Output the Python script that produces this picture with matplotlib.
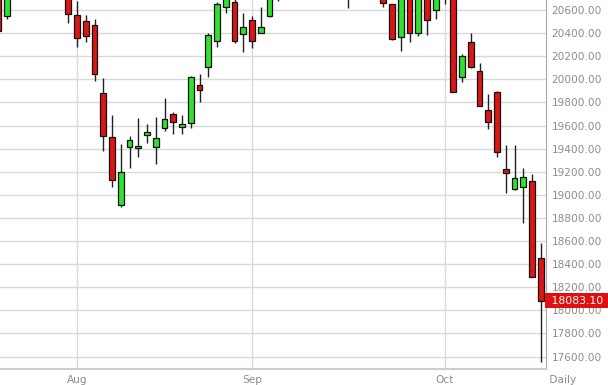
import numpy as np
import matplotlib
matplotlib.use("Agg")
import matplotlib.pyplot as plt
import matplotlib.transforms as mtransforms

# daily OHLC, one entry per trading day (first candle is cut by the left edge)
opens = [20720, 20551, 20760, 20800, 20790, 20870, 20830, 20800, 20770, 20557,
         20507, 20470, 19884, 19500, 18912, 19411, 19402, 19520, 19417, 19578,
         19700, 19587, 19619, 19948, 20109, 20334, 20623, 20672, 20392, 20513,
         20404, 20548, 20760, 20820, 20880, 20850, 20900, 20950, 20910, 20870,
         20800, 20720, 20830, 20790, 20760, 20649, 20364, 20740, 20404, 20740,
         20600, 20720, 20760, 20023, 20320, 20074, 19734, 19893, 19221, 19050,
         19065, 19120, 18450]
highs = [20760, 20760, 20830, 20870, 20900, 20950, 20880, 20860, 20800, 20678,
         20557, 20519, 20009, 19691, 19440, 19509, 19662, 19613, 19671, 19838,
         19714, 19691, 20025, 20046, 20398, 20670, 20770, 20710, 20577, 20548,
         20623, 20800, 20850, 20900, 20960, 20930, 21000, 21020, 20980, 20940,
         20880, 20860, 20900, 20850, 20780, 20650, 20760, 20780, 20770, 20780,
         20760, 20800, 20790, 20219, 20398, 20144, 19873, 19900, 19431, 19431,
         19230, 19180, 18580]
lows = [20400, 20522, 20720, 20760, 20750, 20820, 20760, 20740, 20487, 20277,
        20326, 19985, 19382, 19070, 18892, 19230, 19330, 19451, 19264, 19555,
        19526, 19526, 19576, 19806, 20023, 20282, 20577, 20311, 20239, 20268,
        20398, 20537, 20680, 20760, 20820, 20790, 20850, 20880, 20840, 20800,
        20614, 20700, 20760, 20720, 20629, 20340, 20248, 20326, 20375, 20384,
        20522, 20652, 19890, 19974, 20100, 19765, 19567, 19330, 19018, 19040,
        18753, 18285, 17555]
closes = [20418, 20740, 20800, 20780, 20880, 20840, 20800, 20770, 20563, 20355,
          20375, 20043, 19506, 19125, 19195, 19472, 19424, 19544, 19489, 19654,
          19633, 19613, 20017, 19907, 20384, 20649, 20740, 20334, 20450, 20334,
          20450, 20760, 20820, 20880, 20850, 20900, 20950, 20910, 20870, 20820,
          20720, 20830, 20790, 20760, 20663, 20346, 20720, 20404, 20730, 20513,
          20720, 20760, 19893, 20204, 20109, 19769, 19633, 19373, 19191, 19143,
          19157, 18291, 18083.10]

month_names = ["Aug", "Sep", "Oct"]
month_start = [9, 29, 51]   # index of first trading day of each month

o = np.array(opens, dtype=float)
h = np.array(highs, dtype=float)
l = np.array(lows, dtype=float)
c = np.array(closes, dtype=float)
x = np.arange(len(o))
up = c >= o

fig = plt.figure(figsize=(6.08, 3.85), dpi=100)
ax = fig.add_axes([0, 16 / 385, 546 / 608, 369 / 385])

grid_col = "#d9d9d9"
ax.set_yticks(np.arange(17600, 20601, 200))
ax.yaxis.set_major_formatter(matplotlib.ticker.FormatStrFormatter("%.2f"))
ax.yaxis.tick_right()
ax.set_xticks(month_start)
ax.set_xticklabels(month_names)
ax.grid(True, color=grid_col, linewidth=1.0)
ax.set_axisbelow(True)
ax.tick_params(length=0, labelsize=7.6, labelcolor="#8c8c8c")
ax.tick_params(axis="y", pad=4)
ax.tick_params(axis="x", pad=4)

# wicks then bodies
ax.vlines(x, l, h, color="#222222", linewidth=1.0, zorder=2)
colors = np.where(up, "#2fe22f", "#dd1515")
ax.bar(x, np.abs(c - o), bottom=np.minimum(o, c), width=0.68,
       color=colors, edgecolor="#111111", linewidth=0.9, zorder=3)

ax.set_xlim(0.2, 62.6)
ax.set_ylim(17492, 20687)

for s in ["top", "left"]:
    ax.spines[s].set_visible(False)
ax.spines["right"].set_color("#a8a8a8")
ax.spines["bottom"].set_color("#cccccc")
ax.spines["bottom"].set_linewidth(1.5)

# last price tag
trans = mtransforms.blended_transform_factory(ax.transAxes, ax.transData)
ax.text(1.003, c[-1], " %.2f " % c[-1], transform=trans, ha="left", va="center",
        color="white", fontsize=7.8, clip_on=False, zorder=10,
        bbox=dict(boxstyle="square,pad=0.25", fc="#e01010", ec="none"))

ax.text(1.0, -0.03, " Daily", transform=ax.transAxes, ha="left", va="center",
        color="#8c8c8c", fontsize=7.6, clip_on=False)

fig.savefig("out.png", dpi=100)
